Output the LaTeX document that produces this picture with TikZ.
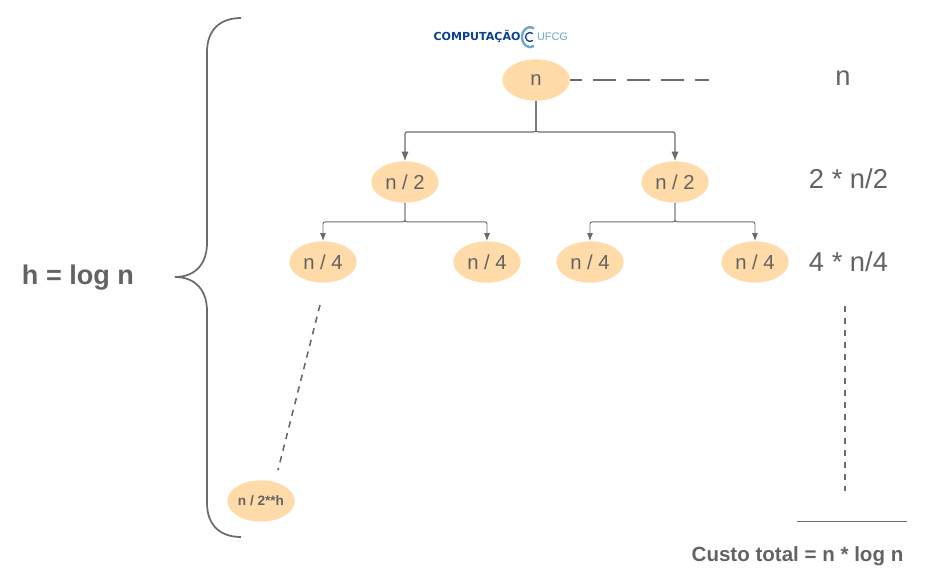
\documentclass[tikz,border=0pt]{standalone}
\usepackage{fontspec}
\setmainfont{Liberation Sans}
\newfontfamily\logofont{DejaVu Sans}
\usetikzlibrary{positioning,calc,shapes.geometric}
\usetikzlibrary{arrows.meta}
\definecolor{nodefill}{HTML}{FFDBA9}
\definecolor{inkgrey}{HTML}{636363}
\definecolor{linegrey}{HTML}{6B6B6B}
\definecolor{logodark}{HTML}{0B4190}
\definecolor{logolight}{HTML}{6FA8C4}
\tikzset{
   callnode/.style={ellipse,fill=nodefill,text=inkgrey,minimum width=50.5pt,minimum height=31pt,inner sep=0pt,font=\fontsize{15.2}{16}\selectfont},
   link/.style={draw=linegrey,line width=.85pt,rounded corners=1.5pt,-{Latex[length=7pt,width=5.4pt]}},
   sublink/.style={link,line width=.7pt,-{Latex[length=6pt,width=4.6pt]}},
   levellabel/.style={text=inkgrey,font=\fontsize{20.5}{24}\selectfont},
   boldlabel/.style={text=inkgrey,font=\bfseries\fontsize{20.3}{24}\selectfont},
   guide/.style={draw=linegrey,line width=1.2pt,dash pattern=on 4.75pt off 4.25pt},
}
\begin{document}
\begin{tikzpicture}[x=0.75pt,y=-0.75pt]
   \useasboundingbox (0,0) rectangle (932,575);

   % call tree
   \node[callnode] (root) at (536,80) {n};
   \node[callnode,below left=76.5pt and 98.25pt of root.center,anchor=center]   (half1) {n / 2};
   \node[callnode,below right=76.5pt and 104.25pt of root.center,anchor=center] (half2) {n / 2};

   \node[callnode,below left=60pt and 61.5pt of half1.center,anchor=center]   (quarter1) {n / 4};
   \node[callnode,below right=60pt and 61.5pt of half1.center,anchor=center]  (quarter2) {n / 4};
   \node[callnode,below left=60pt and 63.75pt of half2.center,anchor=center]  (quarter3) {n / 4};
   \node[callnode,below right=60pt and 60pt of half2.center,anchor=center]    (quarter4) {n / 4};

   \node[callnode,font=\bfseries\fontsize{10.2}{12}\selectfont,below left=179.25pt and 46.5pt of quarter1.center,anchor=center] (leaf) {\raisebox{1pt}{n / 2**h}};

   \draw[link] (root.south) -- ++(0,31) -| (half1.north);
   \draw[link] (root.south) -- ++(0,31) -| (half2.north);
   \draw[sublink] (half1.south) -- ++(0,19) -| (quarter1.north);
   \draw[sublink] (half1.south) -- ++(0,19) -| (quarter2.north);
   \draw[sublink] (half2.south) -- ++(0,19) -| (quarter3.north);
   \draw[sublink] (half2.south) -- ++(0,19) -| (quarter4.north);

   % cost per level
   \node[levellabel] (cost0) at (843,78)  {n};
   \node[levellabel] (cost1) at (848.5,179) {2 * n/2};
   \node[levellabel] (cost2) at (848.5,262) {4 * n/4};
   \node[text=inkgrey,font=\bfseries\fontsize{15.4}{18}\selectfont] (total) at (797.5,556) {Custo total = n * log n};

   \coordinate (dash0) at (709,80);
   \coordinate (dash1a) at (320,305);
   \coordinate (dash1b) at (278,470);
   \coordinate (dash2a) at (845,306);
   \coordinate (dash2b) at (845,491);
   \coordinate (sumA) at (797,521);
   \coordinate (sumB) at (907,521);
   \draw[guide,line width=.9pt,dash pattern=on 17.25pt off 8.25pt,dash phase=8.25pt] (root.east) -- (dash0);
   \draw[guide] (dash1a) -- (dash1b);
   \draw[guide] (dash2a) -- (dash2b);
   \draw[draw=linegrey,line width=.7pt] (sumA) -- (sumB);

   % height brace
   \node[boldlabel] (height) at (78,278) {h = log n};
   \draw[draw=linegrey,line width=1.3pt]
      (241,18) .. controls (218,18) and (207,32) .. (207,52)
      -- (207,243) .. controls (207,263) and (196,277) .. (175,277)
      .. controls (196,277) and (207,291) .. (207,311)
      -- (207,503) .. controls (207,523) and (218,537) .. (241,537);

   % logo
   \node[text=logodark,font=\logofont\bfseries\fontsize{8.3}{10}\selectfont,inner sep=0pt] (logoA) at (477,36.5) {COMPUTAÇÃO};
   \node[text=logolight,font=\fontsize{8.2}{10}\selectfont,inner sep=0pt] (logoB) at (552.5,37) {UFCG};
   \draw[logolight,line width=1.8pt] (534,28.5) arc[start angle=-60,end angle=-300,x radius=8,y radius=10];
   \draw[logodark,line width=1pt] (532.9,33.5) arc[start angle=-50,end angle=-310,radius=4.5];
\end{tikzpicture}
\end{document}
